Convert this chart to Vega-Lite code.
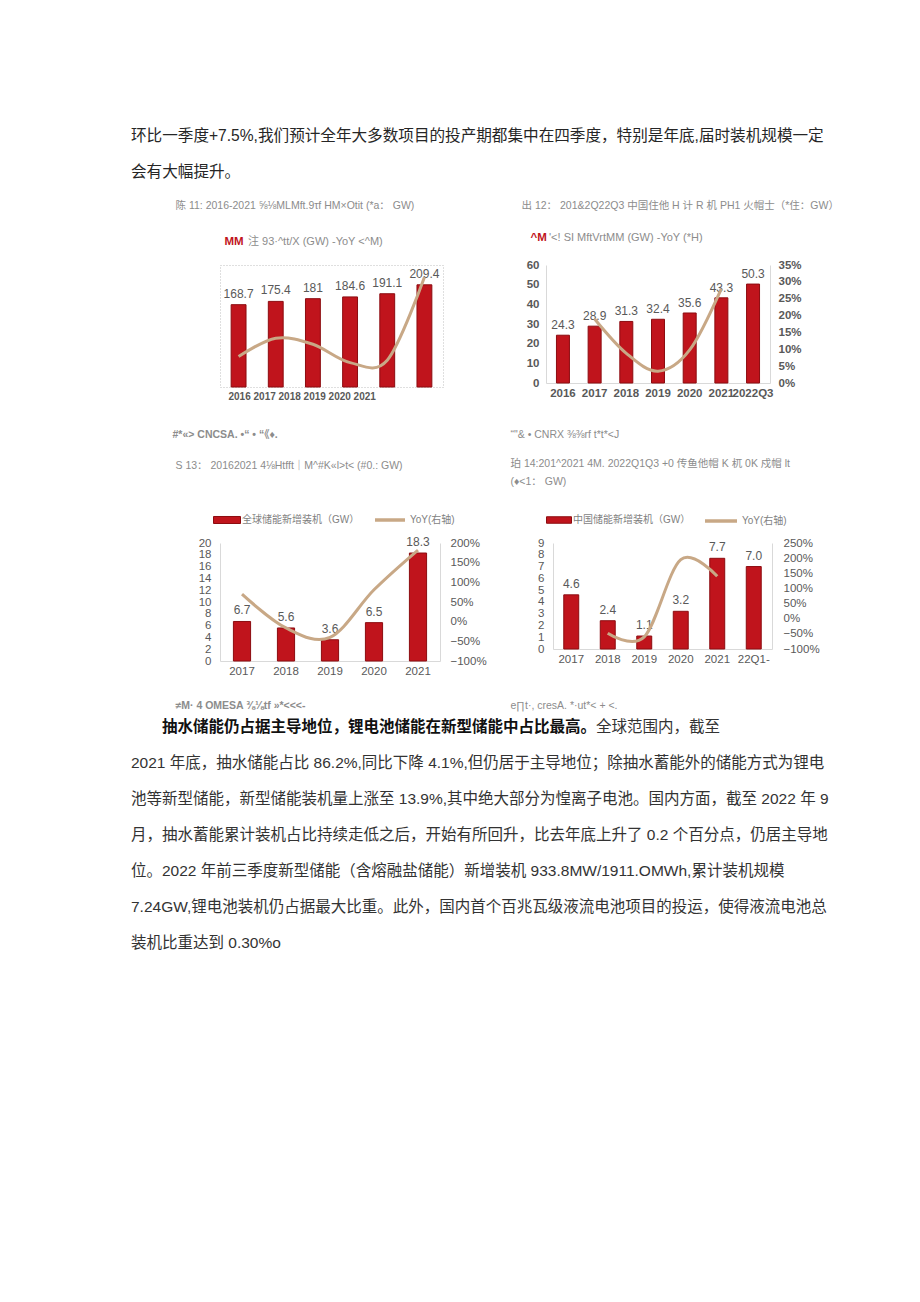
{
  "$schema": "https://vega.github.io/schema/vega-lite/v6.json",
  "background": "white",
  "padding": {"left": 131, "top": 118, "right": 88, "bottom": 340},
  "spacing": 0,
  "resolve": {"scale": {"fill": "independent", "stroke": "independent"}, "legend": {"fill": "independent", "stroke": "independent"}},
  "config": {
    "view": {"stroke": null},
    "font": "Liberation Sans, Noto Sans CJK SC, sans-serif",
    "axis": {"labelFont": "Liberation Sans, Noto Sans CJK SC, sans-serif", "titleFont": "Liberation Sans, Noto Sans CJK SC, sans-serif", "labelColor": "#595959", "labelFontSize": 11.5, "labelOverlap": false, "ticks": false, "grid": false, "domainColor": "#d9d9d9", "titleFontWeight": "normal", "titleColor": "#8c8c8c", "titleFontSize": 10.5, "labelPadding": 4},
    "axisY": {"labelPadding": 8},
    "legend": {"labelFont": "Liberation Sans, Noto Sans CJK SC, sans-serif", "titleFont": "Liberation Sans, Noto Sans CJK SC, sans-serif"},
    "text": {"font": "Liberation Sans, Noto Sans CJK SC, sans-serif"}
  },
  "vconcat": [
    {
      "width": 612, "height": 80.75,
      "data": {"values": [
        {"line": 0, "pos": 0, "text": "环比一季度+7.5%,我们预计全年大多数项目的投产期都集中在四季度，特别是年底,届时装机规模一定"},
        {"line": 1, "pos": 0, "text": "会有大幅提升。"}
      ]},
      "mark": {"type": "text", "align": "left", "baseline": "middle", "fontSize": 15.6, "color": "#262626", "dx": -89},
      "encoding": {
        "x": {"field": "pos", "type": "quantitative", "scale": {"domain": [0, 38.25], "nice": false, "zero": false}, "axis": null},
        "y": {"field": "line", "type": "quantitative", "scale": {"domain": [-0.5, 1.743], "reverse": true, "nice": false, "zero": false}, "axis": null},
        "text": {"field": "text"}
      }
    },
    {
      "hconcat": [
        {
          "width": 223, "height": 122,
          "view": {"stroke": "#bfbfbf", "strokeDash": [1, 2]},
          "data": {"values": [
            {"year": "2016", "v": 168.7, "yoy": 2.5},
            {"year": "2017", "v": 175.4, "yoy": 4.0},
            {"year": "2018", "v": 181, "yoy": 3.5},
            {"year": "2019", "v": 184.6, "yoy": 2.0},
            {"year": "2020", "v": 191.1, "yoy": 2.2},
            {"year": "2021", "v": 209.4, "yoy": 9.0}
          ]},
          "encoding": {
            "x": {"field": "year", "type": "ordinal", "scale": {"paddingInner": 0.6, "paddingOuter": 0.3},
              "axis": {"labels": false, "domain": false, "title": "2016 2017 2018 2019 2020 2021", "titleX": 8, "titleY": 9, "titleAngle": 0, "titleAlign": "left", "titleBaseline": "middle", "titleFontWeight": "bold", "titleFontSize": 10, "titleColor": "#595959"}}
          },
          "layer": [
            {
              "encoding": {
                "y": {"field": "v", "type": "quantitative", "scale": {"domain": [0, 250], "nice": false},
                  "axis": {"labels": false, "domain": false, "title": "#*«> CNCSA. •“ • “《♦.", "titleX": -48, "titleY": 169, "titleAngle": 0, "titleAlign": "left", "titleBaseline": "middle", "titleFontWeight": "bold"}}
              },
              "layer": [
                {
                  "mark": {"type": "bar", "stroke": "#8c0c10", "strokeWidth": 1},
                  "encoding": {
                    "fill": {"datum": "MM", "scale": {"range": ["#c0141c"]},
                      "legend": {"orient": "none", "legendX": -7, "legendY": -29, "direction": "horizontal", "title": "注 93·^tt/X (GW) -YoY <^M)", "titleOrient": "right", "titleFontWeight": "normal", "titleColor": "#8c8c8c", "titleFontSize": 11, "titlePadding": 4, "labelColor": "#c0141c", "labelFontWeight": "bold", "labelFontSize": 11.5, "symbolOpacity": 0, "symbolSize": 0, "labelOffset": 0}}
                  }
                },
                {
                  "mark": {"type": "text", "baseline": "bottom", "dy": -4, "fontSize": 12, "color": "#595959"},
                  "encoding": {
                    "text": {"field": "v", "type": "quantitative", "format": "~f"}
                  }
                }
              ]
            },
            {
              "mark": {"type": "line", "interpolate": "cardinal", "stroke": "#c8a886", "strokeWidth": 3},
              "encoding": {
                "y": {"field": "yoy", "type": "quantitative", "scale": {"domain": [0, 10], "nice": false},
                  "axis": {"orient": "right", "labels": false, "domain": false, "title": "陈 11: 2016-2021 ⅝⅛MLMft.9τf HM×Otit (*a： GW)", "titleX": -268, "titleY": -60, "titleAngle": 0, "titleAlign": "left", "titleBaseline": "middle"}}
              }
            }
          ],
          "resolve": {"scale": {"y": "independent"}}
        },
        {
          "width": 224, "height": 118,
          "data": {"values": [
            {"year": "2016", "v": 24.3, "yoy": null},
            {"year": "2017", "v": 28.9, "yoy": 0.19},
            {"year": "2018", "v": 31.3, "yoy": 0.088},
            {"year": "2019", "v": 32.4, "yoy": 0.035},
            {"year": "2020", "v": 35.6, "yoy": 0.098},
            {"year": "2021", "v": 43.3, "yoy": 0.28},
            {"year": "2022Q3", "v": 50.3, "yoy": null}
          ]},
          "encoding": {
            "x": {"field": "year", "type": "ordinal", "scale": {"paddingInner": 0.59, "paddingOuter": 0.33},
              "axis": {"labelAngle": 0, "labelFontWeight": "bold", "title": "“\"& • CNRX ⅜⅜rf t*t*<J", "titleX": -36, "titleY": 51, "titleAngle": 0, "titleAlign": "left", "titleBaseline": "middle"}}
          },
          "layer": [
            {
              "encoding": {
                "y": {"field": "v", "type": "quantitative", "scale": {"domain": [0, 60], "nice": false},
                  "axis": {"values": [0, 10, 20, 30, 40, 50, 60], "labelPadding": 7, "labelFontWeight": "bold", "title": "出 12： 201&2Q22Q3 中国住他 H 计 R 机 PH1 火帽士（*住：GW）", "titleX": -25, "titleY": -60, "titleAngle": 0, "titleAlign": "left", "titleBaseline": "middle"}}
              },
              "layer": [
                {
                  "mark": {"type": "bar", "stroke": "#8c0c10", "strokeWidth": 1},
                  "encoding": {
                    "fill": {"datum": "^M", "scale": {"range": ["#c0141c"]},
                      "legend": {"orient": "none", "legendX": -27, "legendY": -33, "direction": "horizontal", "title": "'<! SI MftVrtMM (GW) -YoY (*H)", "titleOrient": "right", "titleFontWeight": "normal", "titleColor": "#8c8c8c", "titleFontSize": 11, "titlePadding": 2, "labelColor": "#c0141c", "labelFontWeight": "bold", "labelFontSize": 11.5, "symbolOpacity": 0, "symbolSize": 0, "labelOffset": 0}}
                  }
                },
                {
                  "mark": {"type": "text", "baseline": "bottom", "dy": -3, "fontSize": 12, "color": "#595959"},
                  "encoding": {
                    "text": {"field": "v", "type": "quantitative", "format": ".1f"}
                  }
                }
              ]
            },
            {
              "mark": {"type": "line", "interpolate": "cardinal", "stroke": "#c8a886", "strokeWidth": 3},
              "encoding": {
                "y": {"field": "yoy", "type": "quantitative", "scale": {"domain": [0, 0.35], "nice": false},
                  "axis": {"orient": "right", "values": [0, 0.05, 0.1, 0.15, 0.2, 0.25, 0.3, 0.35], "format": ".0%", "labelPadding": 8, "labelFontWeight": "bold", "title": null}}
              }
            }
          ],
          "resolve": {"scale": {"y": "independent"}}
        }
      ],
      "spacing": 103,
      "bounds": "flush",
      "resolve": {"scale": {"fill": "independent", "stroke": "independent"}, "legend": {"fill": "independent", "stroke": "independent"}}
    },
    {
      "width": 612, "height": 17.75,
      "data": {"values": []},
      "mark": {"type": "text"}
    },
    {
      "hconcat": [
        {
          "width": 220, "height": 118,
          "data": {"values": [
            {"year": "2017", "v": 6.7, "yoy": 0.70},
            {"year": "2018", "v": 5.6, "yoy": -0.16},
            {"year": "2019", "v": 3.6, "yoy": -0.40},
            {"year": "2020", "v": 6.5, "yoy": 0.81},
            {"year": "2021", "v": 18.3, "yoy": 1.82}
          ]},
          "encoding": {
            "x": {"field": "year", "type": "ordinal", "scale": {"paddingInner": 0.61, "paddingOuter": 0.305},
              "axis": {"labelAngle": 0, "title": "≠M· 4 OMESA ⅜⅛tf »*<<<-", "titleX": -45, "titleY": 44, "titleAngle": 0, "titleAlign": "left", "titleBaseline": "middle", "titleFontWeight": "bold"}}
          },
          "layer": [
            {
              "encoding": {
                "y": {"field": "v", "type": "quantitative", "scale": {"domain": [0, 20], "nice": false},
                  "axis": {"values": [0, 2, 4, 6, 8, 10, 12, 14, 16, 18, 20], "labelPadding": 9, "title": "S 13：  20162021 4⅛Htfft｜M^#K«l>t< (#0.: GW)", "titleX": -45, "titleY": -78, "titleAngle": 0, "titleAlign": "left", "titleBaseline": "middle"}}
              },
              "layer": [
                {
                  "mark": {"type": "bar", "stroke": "#8c0c10", "strokeWidth": 1},
                  "encoding": {
                    "fill": {"datum": "全球储能新增装机（GW）", "scale": {"range": ["#c0141c"]},
                      "legend": {"orient": "none", "legendX": -7, "legendY": -37, "title": null, "symbolType": "M-1,-0.26H1V0.26H-1Z", "symbolSize": 729, "symbolStrokeColor": "#8c0c10", "symbolStrokeWidth": 1, "labelFontSize": 10, "labelColor": "#7f7f7f", "labelOffset": 1}}
                  }
                },
                {
                  "mark": {"type": "text", "baseline": "bottom", "dy": -4, "fontSize": 12, "color": "#595959"},
                  "encoding": {
                    "text": {"field": "v", "type": "quantitative", "format": ".1f"}
                  }
                }
              ]
            },
            {
              "mark": {"type": "line", "interpolate": "cardinal", "strokeWidth": 3},
              "encoding": {
                "y": {"field": "yoy", "type": "quantitative", "scale": {"domain": [-1, 2], "nice": false, "zero": false},
                  "axis": {"orient": "right", "values": [-1, -0.5, 0, 0.5, 1, 1.5, 2], "format": ".0%", "labelPadding": 10, "title": null}},
                "stroke": {"datum": "YoY(右轴)", "scale": {"range": ["#c8a886"]},
                  "legend": {"orient": "none", "legendX": 153, "legendY": -40, "title": null, "symbolType": "stroke", "symbolSize": 900, "symbolStrokeWidth": 3.5, "labelFontSize": 10, "labelColor": "#7f7f7f", "labelOffset": 3}}
              }
            }
          ],
          "resolve": {"scale": {"y": "independent"}}
        },
        {
          "width": 219, "height": 106,
          "data": {"values": [
            {"year": "2017", "v": 4.6, "yoy": null},
            {"year": "2018", "v": 2.4, "yoy": -0.48},
            {"year": "2019", "v": 1.1, "yoy": -0.60},
            {"year": "2020", "v": 3.2, "yoy": 1.95},
            {"year": "2021", "v": 7.7, "yoy": 1.40},
            {"year": "22Q1-", "v": 7.0, "yoy": null}
          ]},
          "encoding": {
            "x": {"field": "year", "type": "ordinal", "sort": null, "scale": {"paddingInner": 0.59, "paddingOuter": 0.295},
              "axis": {"labelAngle": 0, "title": "e∏t·, cresA. *·ut*< + <.", "titleX": -43, "titleY": 56, "titleAngle": 0, "titleAlign": "left", "titleBaseline": "middle"}}
          },
          "layer": [
            {
              "encoding": {
                "y": {"field": "v", "type": "quantitative", "scale": {"domain": [0, 9], "nice": false},
                  "axis": {"values": [0, 1, 2, 3, 4, 5, 6, 7, 8, 9], "labelPadding": 9, "title": ["珀 14:201^2021 4M. 2022Q1Q3 +0 传鱼他帽  K 杌 0K 戍帽 lt", "(♦<1：  GW)"], "titleLineHeight": 18, "titleX": -43, "titleY": -85, "titleAngle": 0, "titleAlign": "left", "titleBaseline": "top"}}
              },
              "layer": [
                {
                  "mark": {"type": "bar", "stroke": "#8c0c10", "strokeWidth": 1},
                  "encoding": {
                    "fill": {"datum": "中国储能新增装机（GW）", "scale": {"range": ["#c0141c"]},
                      "legend": {"orient": "none", "legendX": -7, "legendY": -36, "title": null, "symbolType": "M-1,-0.26H1V0.26H-1Z", "symbolSize": 625, "symbolStrokeColor": "#8c0c10", "symbolStrokeWidth": 1, "labelFontSize": 10, "labelColor": "#7f7f7f", "labelOffset": 1}}
                  }
                },
                {
                  "mark": {"type": "text", "baseline": "bottom", "dy": -4, "fontSize": 12, "color": "#595959"},
                  "encoding": {
                    "text": {"field": "v", "type": "quantitative", "format": ".1f"}
                  }
                }
              ]
            },
            {
              "mark": {"type": "line", "interpolate": "cardinal", "strokeWidth": 3},
              "encoding": {
                "y": {"field": "yoy", "type": "quantitative", "scale": {"domain": [-1, 2.5], "nice": false, "zero": false},
                  "axis": {"orient": "right", "values": [-1, -0.5, 0, 0.5, 1, 1.5, 2, 2.5], "format": ".0%", "labelPadding": 11, "title": null}},
                "stroke": {"datum": "YoY(右轴)", "scale": {"range": ["#c8a886"]},
                  "legend": {"orient": "none", "legendX": 150, "legendY": -40, "title": null, "symbolType": "stroke", "symbolSize": 1024, "symbolStrokeWidth": 3.5, "labelFontSize": 10, "labelColor": "#7f7f7f", "labelOffset": 3}}
              }
            }
          ],
          "resolve": {"scale": {"y": "independent"}}
        }
      ],
      "spacing": 113,
      "bounds": "flush",
      "resolve": {"scale": {"fill": "independent", "stroke": "independent"}, "legend": {"fill": "independent", "stroke": "independent"}}
    },
    {
      "width": 612, "height": 252,
      "data": {"values": [
        {"line": 0, "pos": 2, "w": 1, "text": "抽水储能仍占据主导地位，锂电池储能在新型储能中占比最高。"},
        {"line": 0, "pos": 30, "w": 0, "text": "全球范围内，截至"},
        {"line": 1, "pos": 0, "w": 0, "text": "2021 年底，抽水储能占比 86.2%,同比下降 4.1%,但仍居于主导地位；除抽水蓄能外的储能方式为锂电"},
        {"line": 2, "pos": 0, "w": 0, "text": "池等新型储能，新型储能装机量上涨至 13.9%,其中绝大部分为惶离子电池。国内方面，截至 2022 年 9"},
        {"line": 3, "pos": 0, "w": 0, "text": "月，抽水蓄能累计装机占比持续走低之后，开始有所回升，比去年底上升了 0.2 个百分点，仍居主导地"},
        {"line": 4, "pos": 0, "w": 0, "text": "位。2022 年前三季度新型储能（含熔融盐储能）新增装机 933.8MW/1911.OMWh,累计装机规模"},
        {"line": 5, "pos": 0, "w": 0, "text": "7.24GW,锂电池装机仍占据最大比重。此外，国内首个百兆瓦级液流电池项目的投运，使得液流电池总"},
        {"line": 6, "pos": 0, "w": 0, "text": "装机比重达到 0.30%o"}
      ]},
      "encoding": {
        "x": {"field": "pos", "type": "quantitative", "scale": {"domain": [0, 39.48], "nice": false, "zero": false}, "axis": null},
        "y": {"field": "line", "type": "quantitative", "scale": {"domain": [-0.4375, 6.5625], "reverse": true, "nice": false, "zero": false}, "axis": null},
        "text": {"field": "text"}
      },
      "layer": [
        {"transform": [{"filter": "datum.w == 1"}], "mark": {"type": "text", "align": "left", "baseline": "middle", "fontSize": 15.5, "fontWeight": "bold", "color": "#111111", "dx": -89}},
        {"transform": [{"filter": "datum.w == 0"}], "mark": {"type": "text", "align": "left", "baseline": "middle", "fontSize": 15.5, "color": "#333333", "dx": -89}}
      ]
    }
  ]
}
